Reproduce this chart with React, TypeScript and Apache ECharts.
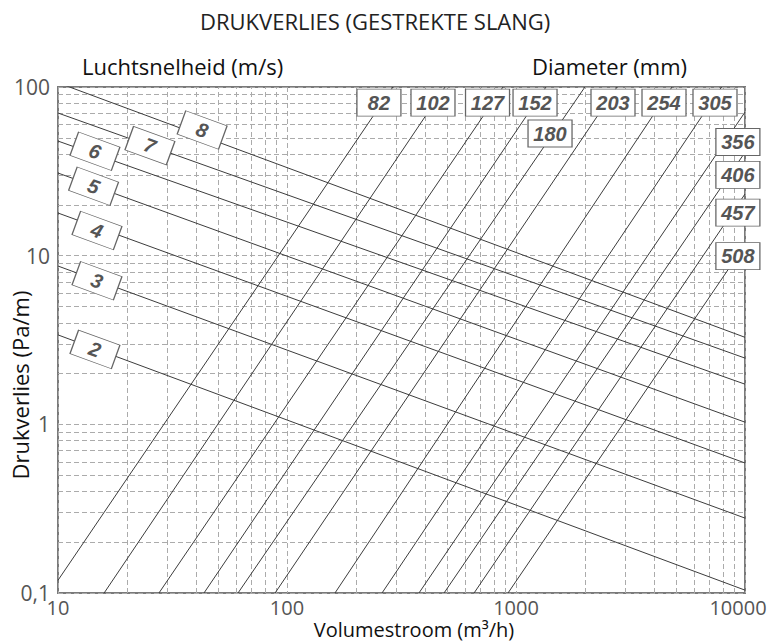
import React, { useEffect, useRef } from 'react';
import * as echarts from 'echarts';

// Air velocity lines (m/s): pressure drop (Pa/m) read at Q = 10 and Q = 10000 m3/h
const velocities = ['2', '3', '4', '5', '6', '7', '8'];
const velocityAtQ10 = [3.39, 8.68, 17.9, 30.9, 47.8, 70.1, 106];
const velocityAtQ10000 = [0.104, 0.278, 0.59, 1.03, 1.73, 2.47, 3.28];
const flowEnds = [10, 10000];

// Diameter lines (mm): start and end points [Q m3/h, Pa/m]
const diameters = ['82', '102', '127', '152', '180', '203', '254', '305', '356', '406', '457', '508'];
const diameterStart = [
  [10, 0.119], [15.9, 0.1], [27.6, 0.1], [43.4, 0.1], [61.1, 0.1], [88.7, 0.1],
  [162, 0.1], [260, 0.1], [377, 0.1], [485, 0.1], [656, 0.1], [923, 0.1],
];
const diameterEnd = [
  [290, 100], [490, 100], [877, 100], [1352, 100], [2000, 100], [2762, 100],
  [4800, 100], [7900, 100], [10000, 71], [10000, 41], [10000, 23.2], [10000, 11.6],
];

// Where the label boxes sit (data coordinates)
const velocityLabelAt = [
  [14.5, 2.78], [14.8, 7.1], [14.8, 14.1], [14.3, 25.8], [14.5, 41.6], [25.2, 44.9], [42.6, 55.6],
];
const diameterLabelAt = [
  [252, 80.7], [434, 80.7], [751, 80.7], [1211, 80.7], [1408, 53], [2652, 80.7],
  [4429, 80.7], [7396, 80.7], [9310, 47.2], [9310, 30.1], [9310, 18.0], [9310, 9.95],
];

// Axes
const xRange = [10, 10000];
const yRange = [0.1, 100];
const xMinorGrid = [20, 30, 40, 50, 60, 70, 80, 90, 200, 300, 400, 500, 600, 700, 800, 900,
  2000, 3000, 4000, 5000, 6000, 7000, 8000, 9000];
const yMinorGrid = [0.2, 0.3, 0.4, 0.5, 0.6, 0.7, 0.8, 0.9, 2, 3, 4, 5, 6, 7, 8, 9,
  20, 30, 40, 50, 60, 70, 80, 90];

export default function App() {
  const ref = useRef<HTMLDivElement>(null);

  useEffect(() => {
    if (!ref.current) return;
    const chart = echarts.init(ref.current, null, { renderer: 'svg' });
    const lineColor = '#3c3c3c';
    const gridColor = '#ababab';
    const boxText = {
      fontFamily: 'Liberation Sans',
      fontWeight: 'bold' as const,
      fontStyle: 'italic' as const,
      fontSize: 20,
      color: '#555555',
    };

    const series: any[] = [];
    series.push({
      type: 'line',
      name: 'grid',
      data: [],
      silent: true,
      markLine: {
        silent: true,
        symbol: ['none', 'none'],
        z: 1,
        animation: false,
        label: { show: false },
        emphasis: { disabled: true },
        lineStyle: { color: gridColor, type: [5, 3], width: 1 },
        data: [
          ...xMinorGrid.map((v) => ({ xAxis: v })),
          ...yMinorGrid.map((v) => ({ yAxis: v })),
        ],
      },
    });
    velocities.forEach((v, i) => {
      series.push({
        type: 'line',
        name: v + ' m/s',
        data: [[flowEnds[0], velocityAtQ10[i]], [flowEnds[1], velocityAtQ10000[i]]],
        symbol: 'none',
        silent: true,
        clip: true,
        z: 2,
        lineStyle: { color: lineColor, width: 1 },
      });
    });
    diameters.forEach((d, i) => {
      series.push({
        type: 'line',
        name: d + ' mm',
        data: [diameterStart[i], diameterEnd[i]],
        symbol: 'none',
        silent: true,
        clip: true,
        z: 2,
        lineStyle: { color: lineColor, width: 1 },
      });
    });
    series.push({
      type: 'scatter',
      name: 'velocity labels',
      data: velocityLabelAt.map((p, i) => [p[0], p[1], velocities[i]]),
      symbol: 'rect',
      symbolSize: [44, 25],
      symbolRotate: -20,
      silent: true,
      z: 5,
      itemStyle: { color: '#ffffff', borderColor: '#666666', borderWidth: 1, opacity: 1 },
      label: {
        show: true,
        position: 'inside',
        rotate: -20,
        formatter: (p: any) => p.data[2],
        ...boxText,
      },
      emphasis: { disabled: true },
    });
    series.push({
      type: 'scatter',
      name: 'diameter labels',
      data: diameterLabelAt.map((p, i) => [p[0], p[1], diameters[i]]),
      symbol: 'rect',
      symbolSize: [44, 27],
      silent: true,
      z: 5,
      itemStyle: { color: '#ffffff', borderColor: '#666666', borderWidth: 1, opacity: 1 },
      label: {
        show: true,
        position: 'inside',
        formatter: (p: any) => p.data[2],
        ...boxText,
      },
      emphasis: { disabled: true },
    });

    chart.setOption({
      animation: false,
      textStyle: { fontFamily: 'Open Sans' },
      title: [
        {
          text: 'DRUKVERLIES (GESTREKTE SLANG)',
          left: 200,
          top: 10,
          padding: 0,
          textStyle: { fontFamily: 'Open Sans', fontSize: 22, fontWeight: 'normal', color: '#222222' },
        },
        {
          text: 'Luchtsnelheid (m/s)',
          left: 82,
          top: 55,
          padding: 0,
          textStyle: { fontFamily: 'Open Sans', fontSize: 22, fontWeight: 'normal', color: '#111111' },
        },
        {
          text: 'Diameter (mm)',
          left: 532,
          top: 55,
          padding: 0,
          textStyle: { fontFamily: 'Open Sans', fontSize: 22, fontWeight: 'normal', color: '#111111' },
        },
      ],
      grid: {
        left: 58,
        right: 22,
        top: 87,
        bottom: 49,
        show: true,
        borderColor: '#7a7a7a',
        borderWidth: 2,
        backgroundColor: 'transparent',
        containLabel: false,
        outerBoundsMode: 'none',
      },
      xAxis: {
        type: 'log',
        logBase: 10,
        min: xRange[0],
        max: xRange[1],
        axisLine: { show: false },
        axisTick: { show: false },
        splitLine: { show: true, lineStyle: { color: gridColor, type: [5, 3], width: 1 } },
        axisLabel: {
          color: '#555555',
          fontSize: 20,
          fontFamily: 'Open Sans',
          margin: 4,
          formatter: (v: number) => (v >= 10000 ? '{last|10000}' : String(Math.round(v))),
          rich: {
            last: { color: '#555555', fontSize: 20, fontFamily: 'Open Sans', padding: [0, 14, 0, 0] },
          },
        },
        name: 'Volumestroom (m³/h)',
        nameLocation: 'middle',
        nameGap: 26,
        nameMoveOverlap: false,
        nameTextStyle: { color: '#111111', fontSize: 20, fontFamily: 'Open Sans', padding: [0, 0, 0, 25] },
      },
      yAxis: {
        type: 'log',
        logBase: 10,
        min: yRange[0],
        max: yRange[1],
        axisLine: { show: false },
        axisTick: { show: false },
        splitLine: { show: true, lineStyle: { color: gridColor, type: [5, 3], width: 1 } },
        axisLabel: {
          color: '#555555',
          fontSize: 21,
          fontFamily: 'Open Sans',
          margin: 8,
          formatter: (v: number) => String(+(+v).toPrecision(3)).replace('.', ','),
        },
        name: 'Drukverlies (Pa/m)',
        nameLocation: 'middle',
        nameGap: 27,
        nameRotate: 90,
        nameMoveOverlap: false,
        nameTextStyle: { color: '#111111', fontSize: 22, fontFamily: 'Open Sans', padding: [0, 90, 0, 0] },
      },
      series,
    });

    return () => {
      chart.dispose();
    };
  }, []);

  return (
    <div
      ref={ref}
      style={{ position: 'absolute', left: 0, top: 0, width: 767, height: 642 }}
    />
  );
}
